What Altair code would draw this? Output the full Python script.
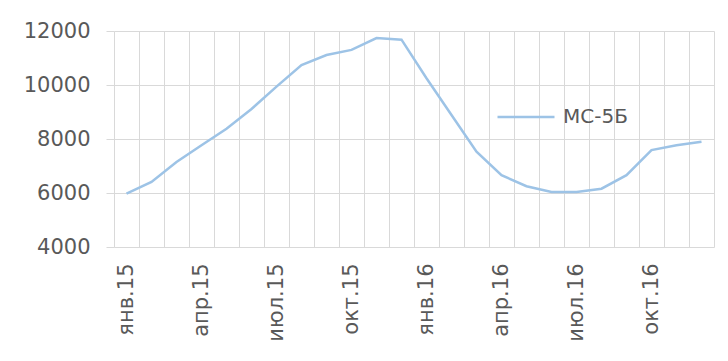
import altair as alt
import pandas as pd

months = ["янв.15", "фев.15", "мар.15", "апр.15", "май.15", "июн.15",
          "июл.15", "авг.15", "сен.15", "окт.15", "ноя.15", "дек.15",
          "янв.16", "фев.16", "мар.16", "апр.16", "май.16", "июн.16",
          "июл.16", "авг.16", "сен.16", "окт.16", "ноя.16", "дек.16"]
values = [5980, 6410, 7150, 7770, 8380, 9110, 9940, 10740, 11110, 11300, 11740, 11680,
          10250, 8890, 7530, 6660, 6250, 6040, 6040, 6160, 6660, 7590, 7770, 7900]
tick_labels = ["янв.15", "апр.15", "июл.15", "окт.15", "янв.16", "апр.16", "июл.16", "окт.16"]
y_ticks = [4000, 6000, 8000, 10000, 12000]
series_name = "МС-5Б"

df = pd.DataFrame({
    "month": months,
    "idx": list(range(len(months))),
    "value": values,
    "series": [series_name] * len(months),
})

FONT = "DejaVu Sans"
TEXT = "#595959"
GRID = "#d9d9d9"

n = len(months)
x_values = [k / 2 for k in range(-1, 2 * n)]
lab_arr = "[" + ",".join("'" + t + "'" for t in tick_labels) + "]"
label_expr = f"(datum.value % 3 === 0) ? {lab_arr}[round(datum.value / 3)] : ''"

chart = alt.Chart(df).mark_line(strokeWidth=2.5).encode(
    x=alt.X("idx:Q",
            scale=alt.Scale(domain=[-0.5, n - 0.5], nice=False, zero=False),
            axis=alt.Axis(values=x_values, labelExpr=label_expr, labelAngle=-90,
                          labelAlign="right", labelBaseline="middle",
                          labelFont=FONT, labelFontSize=21, labelColor=TEXT,
                          labelPadding=16, labelOverlap=False, labelFlush=False,
                          labelBound=False,
                          ticks=False, domain=False, grid=True, gridColor=GRID,
                          gridOpacity={"condition": {"test": "datum.value % 1 !== 0", "value": 1}, "value": 0},
                          title=None)),
    y=alt.Y("value:Q",
            scale=alt.Scale(domain=[4000, 12000], nice=False, zero=False),
            axis=alt.Axis(values=y_ticks, format="d", grid=True, gridColor=GRID, domain=False,
                          ticks=True, tickColor=GRID, tickSize=8,
                          labelFont=FONT, labelFontSize=21, labelColor=TEXT,
                          labelPadding=16, title=None)),
    color=alt.Color("series:N", scale=alt.Scale(range=["#9dc3e6"]),
                    legend=alt.Legend(orient="none", legendX=382, legendY=56, title=None,
                                      symbolType="stroke", symbolSize=3249,
                                      symbolStrokeWidth=2.5, labelFont=FONT,
                                      labelFontSize=20, labelColor=TEXT,
                                      labelOffset=7, padding=0)),
).properties(
    width=600, height=216,
    autosize=alt.AutoSizeParams(type="none"),
    padding={"left": 106, "top": 23, "right": 6, "bottom": 106},
    background="white",
).configure_view(stroke=None)

chart.save("out.html", embed_options={"renderer": "svg", "actions": False})
